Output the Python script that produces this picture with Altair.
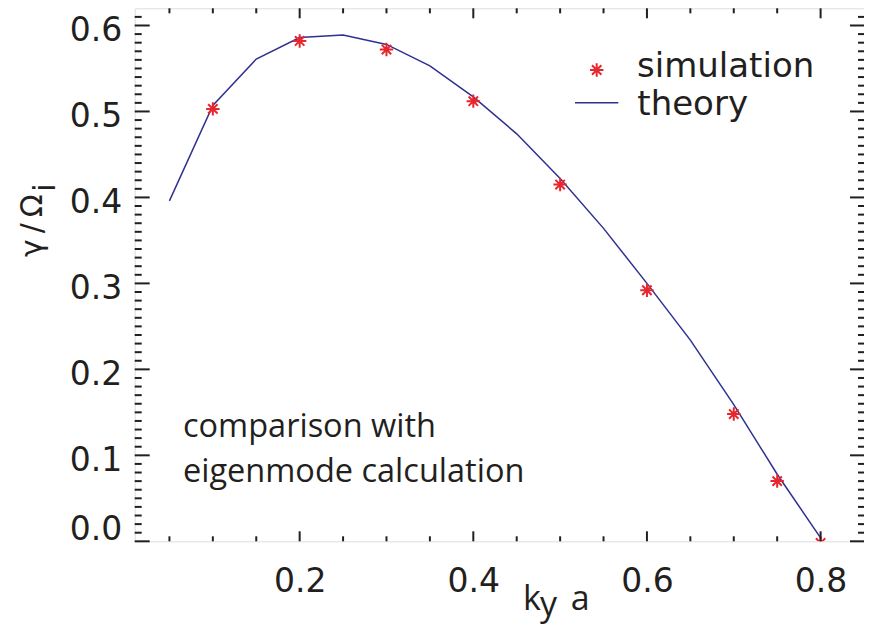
import altair as alt
import pandas as pd

# ---- data ----
ky_sim = [0.1, 0.2, 0.3, 0.4, 0.5, 0.6, 0.7, 0.75, 0.8]
gamma_sim = [0.503, 0.582, 0.572, 0.512, 0.415, 0.292, 0.148, 0.070, -0.002]

ky_theory = [0.05, 0.10, 0.15, 0.20, 0.25, 0.30, 0.35, 0.40, 0.45, 0.50,
             0.55, 0.60, 0.65, 0.70, 0.75, 0.80]
gamma_theory = [0.396, 0.507, 0.561, 0.586, 0.589, 0.578, 0.553, 0.517, 0.474,
                0.422, 0.364, 0.300, 0.234, 0.159, 0.078, 0.004]

x_major = [0.2, 0.4, 0.6, 0.8]
x_minor = [0.05, 0.10, 0.15, 0.25, 0.30, 0.35, 0.45, 0.50, 0.55, 0.65, 0.70, 0.75]
y_major = [0.0, 0.1, 0.2, 0.3, 0.4, 0.5, 0.6]
y_minor = [round(i * 0.01, 2) for i in range(1, 62) if i % 10 != 0]

legend_labels = ["simulation", "theory"]
note_lines = ["comparison with", "eigenmode calculation"]

# ---- layout ----
W, H = 729.3, 533
PAD_L, PAD_T = 126.7, 0.3
XDOM = [0.01, 0.85]
YDOM = [0.0, 0.62]
INK = "#231f20"
RED = "#e8262d"
BLUE = "#2e3192"
TICKFONT = "DejaVu Sans"
TEXTFONT = "Open Sans"

xs = alt.Scale(domain=XDOM, nice=False, zero=False)
ys = alt.Scale(domain=YDOM, nice=False, zero=False)

x_axis = alt.Axis(
    values=x_major, format=".1f", title=None, ticks=False, domain=False,
    grid=False, labelFont=TICKFONT, labelFontSize=33, labelColor=INK,
    labelPadding=24, labelFlush=False)
y_axis = alt.Axis(
    values=y_major, format=".1f", title=None, ticks=False, domain=False,
    grid=False, labelFont=TICKFONT, labelFontSize=33, labelColor=INK,
    labelPadding=13, labelOffset=5, labelFlush=True)

STAR = "M-1,0L1,0M0,-1L0,1M-0.7,-0.7L0.7,0.7M-0.7,0.7L0.7,-0.7"

theory_df = pd.DataFrame({"ky": ky_theory, "gamma": gamma_theory})
sim_df = pd.DataFrame({"ky": ky_sim, "gamma": gamma_sim})

line = alt.Chart(theory_df).mark_line(color=BLUE, strokeWidth=1.5, clip=True).encode(
    x=alt.X("ky:Q", scale=xs, axis=x_axis),
    y=alt.Y("gamma:Q", scale=ys, axis=y_axis),
)

points = alt.Chart(sim_df).mark_point(
    shape=STAR, size=180, filled=False, stroke=RED, strokeWidth=2, opacity=1, clip=True
).encode(
    x=alt.X("ky:Q", scale=xs, axis=x_axis),
    y=alt.Y("gamma:Q", scale=ys, axis=y_axis),
)


def xticks(vals, length, top):
    df = pd.DataFrame({"v": vals})
    y0 = 0 if top else H
    y1 = length if top else H - length
    return alt.Chart(df).mark_rule(color=INK, strokeWidth=2).encode(
        x=alt.X("v:Q", scale=xs, axis=x_axis), y=alt.value(y0), y2=alt.value(y1))


def yticks(vals, length, right):
    df = pd.DataFrame({"v": vals})
    x0 = W if right else 0
    x1 = W - length if right else length
    return alt.Chart(df).mark_rule(color=INK, strokeWidth=2).encode(
        y=alt.Y("v:Q", scale=ys, axis=y_axis), x=alt.value(x0), x2=alt.value(x1))


def text(txt, x, y, font, size, angle=0, align="left"):
    return alt.Chart(pd.DataFrame({"t": [txt]})).mark_text(
        align=align, baseline="alphabetic", font=font, fontSize=size,
        color=INK, angle=angle
    ).encode(text="t:N", x=alt.value(x), y=alt.value(y))


ticks = [
    xticks(x_major, 10, False), xticks(x_minor, 5, False),
    xticks(x_major, 10, True), xticks(x_minor, 5, True),
    yticks(y_major, 15, False), yticks(y_minor, 7, False),
    yticks(y_major, 14, True), yticks(y_minor, 6, True),
]

# legend
leg_star = alt.Chart(pd.DataFrame({"s": [legend_labels[0]]})).mark_point(
    shape=STAR, size=180, filled=False, stroke=RED, strokeWidth=2, opacity=1
).encode(x=alt.value(462), y=alt.value(61.7))
leg_line = alt.Chart(pd.DataFrame({"s": [legend_labels[1]]})).mark_rule(
    color=BLUE, strokeWidth=1.5
).encode(x=alt.value(440.3), x2=alt.value(483.6), y=alt.value(94.4))
leg_t1 = text(legend_labels[0], 502.3, 68.4, TICKFONT, 34)
leg_t2 = text(legend_labels[1], 502.6, 106.7, TICKFONT, 34)

# annotation
note1 = text(note_lines[0], 48.3, 428.4, TEXTFONT, 32.5)
note2 = text(note_lines[1], 48.3, 473.4, TEXTFONT, 32.5)

# axis titles
xt_k = text("k", 388.3, 602, TEXTFONT, 34)
xt_y = text("y", 405.3, 607.5, TEXTFONT, 34)
xt_a = text("a", 436, 602, TEXTFONT, 34)
yt_main = text("γ\u2009/\u2009Ω", -92.7, 248.7, TICKFONT, 30, angle=270)
yt_sub = text("i", -79.7, 183.5, TICKFONT, 30, angle=270)

chart = alt.layer(
    line, points, *ticks, leg_star, leg_line, leg_t1, leg_t2,
    note1, note2, xt_k, xt_y, xt_a, yt_main, yt_sub
).properties(
    width=W, height=H,
    autosize=alt.AutoSizeParams(type="none"),
    padding={"left": PAD_L, "top": PAD_T, "right": 0, "bottom": 85.7},
).configure_view(
    stroke=INK, strokeWidth=2
).configure(background="white")

chart.save("out.html", embed_options={"renderer": "svg", "actions": False})
